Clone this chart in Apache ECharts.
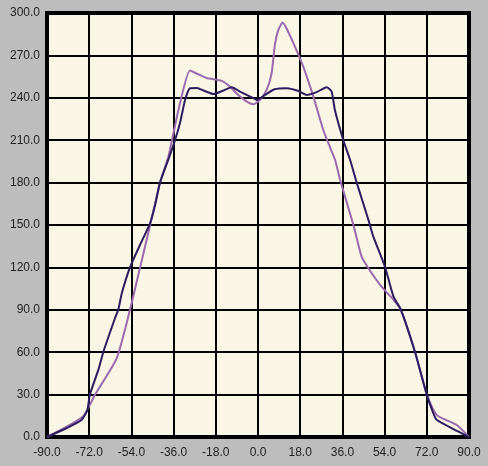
<!DOCTYPE html>
<html><head><meta charset="utf-8">
<script src="https://cdn.jsdelivr.net/npm/echarts@6/dist/echarts.min.js"></script>
<style>html,body{margin:0;padding:0;background:#bdbdbd;}#c{width:488px;height:466px;}</style>
</head><body><div id="c"></div>
<script>
const xTicks = [-90, -72, -54, -36, -18, 0, 18, 36, 54, 72, 90];
const yTicks = [0, 30, 60, 90, 120, 150, 180, 210, 240, 270, 300];
const darkSeries = [[-90,0],[-82,6],[-75.3,12],[-72.8,19],[-71.7,30],[-68,48],[-66,60],[-61,84],[-59.6,90],[-58.1,101.7],[-54.6,120],[-50.3,136],[-46.1,151],[-43.9,164],[-41.8,180],[-38.3,196],[-35.4,210],[-33.3,222],[-31.1,238.5],[-29,246.8],[-26,247],[-23,245],[-19,242.7],[-15,245],[-11.2,247.5],[-7.7,244.4],[-2,239.7],[-0.6,238.5],[3,242],[7,246],[12.2,246.8],[17,245],[20.8,242],[25,244],[29.3,247.5],[31.4,244.4],[32.8,231.4],[36.4,210],[39.3,196],[42.1,180],[47.1,153.6],[49.2,141.8],[54.2,120.3],[57.8,99.3],[61,90],[67,60],[72,30],[74.8,16.7],[76.3,12],[85.5,3.8],[90,0]];
const purpleSeries = [[-90,0],[-82,7],[-74.4,15],[-69.5,30],[-60.3,55.7],[-54.6,90],[-50.3,120],[-46,150],[-41.8,180],[-38.3,198],[-36.7,210],[-33.3,236],[-29,259.3],[-26,257],[-21.9,254],[-15.5,252],[-12,248],[-9.1,243],[-4.8,237.3],[-2,235.5],[0.85,238.5],[3.7,245.6],[5.8,257.4],[7.3,278.6],[8.7,288],[10.5,293.3],[12.2,289],[15.8,276],[19.3,262],[23.6,240.8],[27.9,217],[30.7,205],[32.9,196],[35,182],[40.7,150],[44.2,127.6],[47.1,119.4],[52.1,107.6],[57.8,97],[60.6,91],[67,60],[72,30],[76.3,15.5],[84.8,8.5],[90,0]];

const chart = echarts.init(document.getElementById('c'));
const lbl = {color:'#222', fontSize:12, fontFamily:'Liberation Sans, Arial, sans-serif', formatter:v=>v.toFixed(1)};
chart.setOption({
  backgroundColor:'#bdbdbd',
  animation:false,
  grid:{left:47,right:19,top:13,bottom:29,show:true,backgroundColor:'#faf6e6',borderColor:'#000',borderWidth:4},
  xAxis:{type:'value',min:xTicks[0],max:xTicks[xTicks.length-1],interval:18,
    axisLine:{show:false},axisTick:{show:false},
    splitLine:{show:true,lineStyle:{color:'#000',width:2}},
    axisLabel:Object.assign({margin:10},lbl)},
  yAxis:{type:'value',min:yTicks[0],max:yTicks[yTicks.length-1],interval:30,
    axisLine:{show:false},axisTick:{show:false},
    splitLine:{show:true,lineStyle:{color:'#000',width:2}},
    axisLabel:Object.assign({margin:7},lbl)},
  series:[
    {type:'line',data:purpleSeries,showSymbol:false,smooth:0.2,lineStyle:{color:'#9a6aaf',width:2}},
    {type:'line',data:darkSeries,showSymbol:false,smooth:0.2,lineStyle:{color:'#2c1c60',width:2}}
  ]
});
</script></body></html>
